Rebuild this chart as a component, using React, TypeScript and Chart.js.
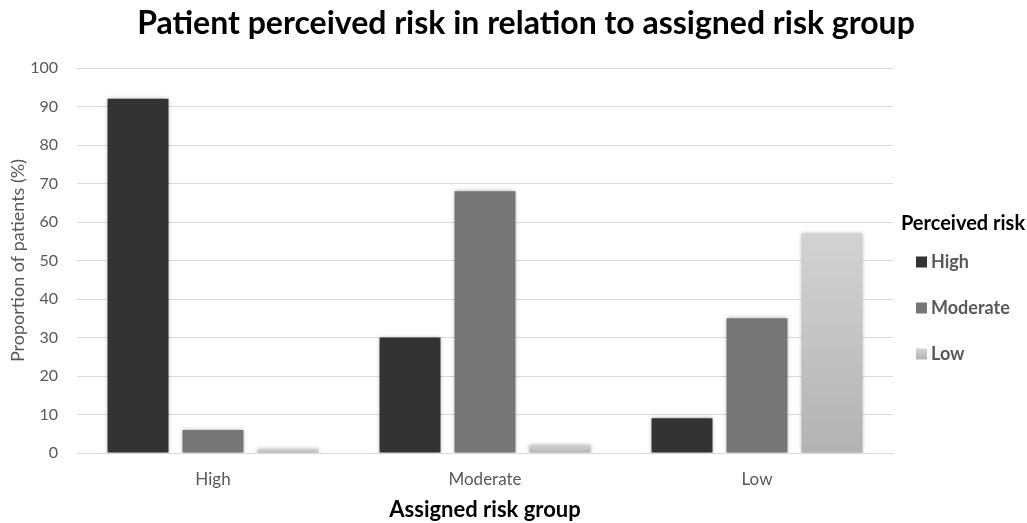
import React, { useEffect, useRef } from "react";
import { Chart, registerables } from "chart.js";

Chart.register(...registerables);

const chartTitle = "Patient perceived risk in relation to assigned risk group";
const xAxisTitle = "Assigned risk group";
const yAxisTitle = "Proportion of patients (%)";
const legendTitle = "Perceived risk";

const categories = ["High", "Moderate", "Low"];
const seriesNames = ["High", "Moderate", "Low"];
const perceivedHigh = [92, 30, 9];
const perceivedModerate = [6, 68, 35];
const perceivedLow = [1, 2, 57];
const yMin = 0;
const yMax = 100;
const yStep = 10;

const FONT = "Lato, 'Open Sans', sans-serif";
const DARK = "#333333";
const MID = "#767676";
const LIGHT = "#cccccc";

const W = 1027;
const H = 523;

function lightFill(c: any) {
  const chart = c.chart;
  const { chartArea, scales } = chart;
  if (!chartArea || c.type !== "data" || !scales || !scales.y) return LIGHT;
  const v = c.raw as number;
  const top = scales.y.getPixelForValue(v);
  const bottom = scales.y.getPixelForValue(0);
  if (!(bottom - top > 1)) return LIGHT;
  const g = chart.ctx.createLinearGradient(0, top, 0, bottom);
  g.addColorStop(0, "#d3d3d3");
  g.addColorStop(1, "#b3b3b3");
  return g;
}

const shadowPlugin = {
  id: "barShadow",
  beforeDatasetsDraw(chart: any) {
    const ctx = chart.ctx;
    ctx.save();
    ctx.shadowColor = "rgba(0,0,0,0.35)";
    ctx.shadowBlur = 4;
    ctx.shadowOffsetX = 0;
    ctx.shadowOffsetY = 0;
  },
  afterDatasetsDraw(chart: any) {
    chart.ctx.restore();
  },
};

const decorPlugin = {
  id: "decor",
  afterDraw(chart: any) {
    const ctx = chart.ctx;
    ctx.save();
    // chart title
    ctx.fillStyle = "#000000";
    ctx.font = `bold 32px ${FONT}`;
    ctx.textAlign = "center";
    ctx.textBaseline = "alphabetic";
    ctx.fillText(chartTitle, 526, 34);

    // legend
    ctx.font = `bold 20px ${FONT}`;
    ctx.textBaseline = "middle";
    ctx.fillStyle = "#000000";
    ctx.fillText(legendTitle, 963, 224);

    const datasets = chart.data.datasets;
    const itemYs = [262, 308, 354];
    ctx.textAlign = "left";
    ctx.font = `bold 18px ${FONT}`;
    datasets.forEach((ds: any, i: number) => {
      const y = itemYs[i];
      const bx = 916;
      const by = y - 5.5;
      if (i === 2) {
        const g = ctx.createLinearGradient(0, by, 0, by + 11);
        g.addColorStop(0, "#d3d3d3");
        g.addColorStop(1, "#b3b3b3");
        ctx.fillStyle = g;
      } else {
        ctx.fillStyle = ds.legendColor;
      }
      ctx.fillRect(bx, by, 11, 11);
      ctx.fillStyle = "#595959";
      ctx.fillText(ds.label, 931, y);
    });
    ctx.restore();
  },
};

export default function App() {
  const ref = useRef<HTMLCanvasElement | null>(null);

  useEffect(() => {
    if (!ref.current) return;
    const chart = new Chart(ref.current, {
      type: "bar",
      data: {
        labels: categories,
        datasets: [
          { label: seriesNames[0], data: perceivedHigh, backgroundColor: DARK, legendColor: DARK } as any,
          { label: seriesNames[1], data: perceivedModerate, backgroundColor: MID, legendColor: MID } as any,
          { label: seriesNames[2], data: perceivedLow, backgroundColor: lightFill, legendColor: LIGHT } as any,
        ],
      },
      options: {
        responsive: false,
        animation: false,
        devicePixelRatio: 1,
        layout: { padding: { left: 0, top: 68, right: 134, bottom: 0 } },
        datasets: {
          bar: { categoryPercentage: 0.827, barPercentage: 0.813 },
        },
        plugins: {
          legend: { display: false },
          title: { display: false },
          tooltip: { enabled: false },
        },
        scales: {
          x: {
            grid: { display: false, drawTicks: false },
            border: { display: true, color: "#d9d9d9", width: 1 },
            ticks: {
              color: "#595959",
              font: { family: FONT, size: 17 },
              padding: 16,
            },
            title: {
              display: true,
              text: xAxisTitle,
              color: "#000000",
              font: { family: FONT, size: 22, weight: "bold" },
              padding: { top: 0, bottom: 0 },
            },
            afterFit(scale: any) {
              scale.height = 70;
            },
          },
          y: {
            min: yMin,
            max: yMax,
            grid: { color: "#d9d9d9", lineWidth: 1, drawTicks: false },
            border: { display: false },
            ticks: {
              stepSize: yStep,
              color: "#595959",
              font: { family: FONT, size: 16 },
              padding: 19,
            },
            title: {
              display: true,
              text: yAxisTitle,
              color: "#595959",
              font: { family: FONT, size: 18 },
              padding: { top: 7, bottom: 0 },
            },
            afterFit(scale: any) {
              scale.width = 77;
            },
          },
        },
      },
      plugins: [shadowPlugin, decorPlugin],
    });
    return () => chart.destroy();
  }, []);

  return (
    <div style={{ position: "absolute", left: 0, top: 0, width: W, height: H, background: "#ffffff" }}>
      <canvas ref={ref} width={W} height={H} style={{ display: "block", width: W, height: H }} />
    </div>
  );
}
